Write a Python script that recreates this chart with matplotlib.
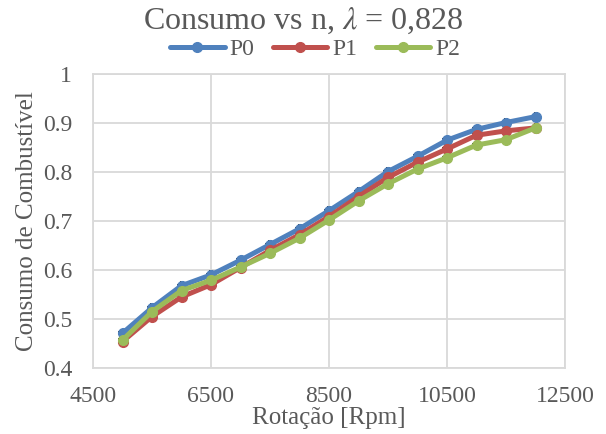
import matplotlib
matplotlib.use("Agg")
import matplotlib.pyplot as plt

rpm = [5000, 5500, 6000, 6500, 7000, 7500, 8000, 8500, 9000, 9500, 10000, 10500, 11000, 11500, 12000]
p0 = [0.471, 0.523, 0.568, 0.590, 0.620, 0.652, 0.684, 0.721, 0.760, 0.801, 0.832, 0.865, 0.887, 0.901, 0.913]
p1 = [0.454, 0.505, 0.545, 0.570, 0.605, 0.640, 0.672, 0.709, 0.750, 0.789, 0.820, 0.847, 0.875, 0.884, 0.890]
p2 = [0.457, 0.515, 0.558, 0.579, 0.606, 0.634, 0.665, 0.702, 0.741, 0.776, 0.806, 0.829, 0.855, 0.866, 0.890]
series_names = ["P0", "P1", "P2"]
colors = ["#4F81BD", "#C0504D", "#9BBB59"]
xticks = [4500, 6500, 8500, 10500, 12500]
yticks = [0.4, 0.5, 0.6, 0.7, 0.8, 0.9, 1.0]
ytick_labels = ["0.4", "0.5", "0.6", "0.7", "0.8", "0.9", "1"]

plt.rcParams['font.family'] = ['Liberation Serif', 'DejaVu Serif']
txt = "#595959"
W, H = 606, 434

fig = plt.figure(figsize=(6.06, 4.34), dpi=100)
ax = fig.add_axes([93/W, 1 - 368/H, (565-93)/W, (368-74)/H])

for name, ys, c in zip(series_names, [p0, p1, p2], colors):
    ax.errorbar(rpm, ys, xerr=60, yerr=0.007, fmt='none', ecolor='black',
                elinewidth=0.8, capsize=1.5, capthick=1.2, zorder=2, linestyle=':')
    ax.plot(rpm, ys, color=c, lw=3.6, marker='o', markersize=7,
            label=name, zorder=3, solid_capstyle='round')

ax.set_xlim(4500, 12500)
ax.set_ylim(0.4, 1.0)
ax.set_xticks(xticks)
ax.set_xticklabels([str(v) for v in xticks])
ax.set_yticks(yticks)
ax.set_yticklabels(ytick_labels)
ax.grid(True, color="#D9D9D9", lw=1.3)
ax.set_axisbelow(True)
for s in ax.spines.values():
    s.set_color("#D9D9D9")
    s.set_linewidth(1.3)
ax.tick_params(length=0, labelsize=17, colors=txt)
ax.tick_params(axis='x', pad=13)
ax.tick_params(axis='y', pad=15)
ax.set_xlabel("Rotação [Rpm]", fontsize=18, color=txt, va='center')
ax.xaxis.set_label_coords((329-93)/(565-93), -(418-368)/(368-74))
ax.set_ylabel("Consumo de Combustível", fontsize=18, color=txt, va='center')
ax.yaxis.set_label_coords(-(93-27)/(565-93), 0.5)

fig.text(0.5, 1 - 21/H, "Consumo vs n, $\\lambda$ = 0,828", ha='center', va='center',
         fontsize=23, color=txt, math_fontfamily='stix')
fig.legend(loc='center', bbox_to_anchor=(315/W, 1 - 49/H), ncol=3, frameon=False,
           fontsize=17, labelcolor=txt, handlelength=2.3, columnspacing=0.8, handletextpad=0.2,
           borderpad=0, borderaxespad=0)

fig.savefig("out.png", dpi=100)
